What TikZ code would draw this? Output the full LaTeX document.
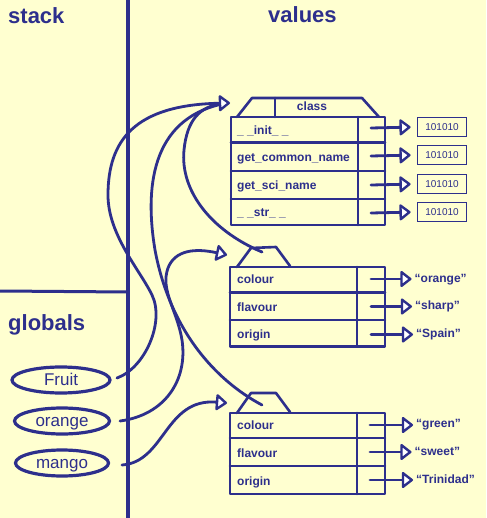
\documentclass[tikz,border=0pt]{standalone}
\usepackage{fontspec}
\setmainfont{Liberation Sans}
\usetikzlibrary{arrows.meta,shapes.geometric}
\definecolor{ink}{RGB}{45,47,140}
\definecolor{paper}{RGB}{255,255,208}

\begin{document}
\begin{tikzpicture}[x=1pt,y=-1pt,
  every node/.style={text=ink, inner sep=0pt},
  heading/.style={font=\fontsize{22}{22}\selectfont\bfseries, anchor=base west},
  field/.style={font=\fontsize{12}{12}\selectfont\bfseries, anchor=base west},
  valtext/.style={font=\fontsize{12}{12}\selectfont\bfseries, anchor=base west},
  codebox/.style={draw=ink, line width=1.8pt, minimum width=49pt, minimum height=19pt,
                  font=\fontsize{10}{10}\selectfont},
  var/.style={draw=ink, ellipse, line width=3.2pt, minimum height=26pt,
              text height=13pt, text depth=3pt, font=\fontsize{17}{17}\selectfont},
  frame/.style={draw=ink, line width=2.6pt, line join=round, line cap=round},
  link/.style={draw=ink, line width=2.8pt, line cap=round},
  tip/.style={-{Triangle[length=12pt,width=18pt,fill=white,line width=2.4pt,line join=round]}},
  ref/.style={link, shorten >=3pt, tip},
]
\fill[paper] (0,0) rectangle (486,518);
\useasboundingbox (0,0) rectangle (486,518);

% stack / heap separation
\draw[ink, line width=3.8pt, line cap=round] (128,0) -- (128,518);
\draw[ink, line width=3pt, line cap=round] (0,291) -- (128,292);

% headings
\node[heading] (stacklbl) at (8,24) {stack};
\node[heading] (valueslbl) at (268,23) {values};
\node[heading] (globalslbl) at (8,330) {globals};

% global variables
\node[var, minimum width=98pt] (fruit) at (61,380) {Fruit};
\node[var, minimum width=95pt] (orange) at (62,421) {orange};
\node[var, minimum width=93pt] (mango) at (62,463) {mango};

% ---------- class object ----------
\draw[frame] (237,117) -- (252,98) -- (362,98) -- (379,117);
\draw[frame] (275,98) -- (275,117);
\node[font=\fontsize{12}{12}\selectfont\bfseries, anchor=base] (clsname) at (312,111) {class};
\draw[frame] (231,117) rectangle (385,225);
\draw[frame] (231,142.5) -- (385,142.5);
\draw[frame] (231,171) -- (385,171);
\draw[frame] (231,199) -- (385,199);
\draw[frame] (358,117) -- (358,225);

\node[field] (finit) at (237,134.5) {\_ \_init\_ \_};
\node[field] (fcommon) at (237,161.5) {get\_common\_name};
\node[field] (fsci) at (237,189.5) {get\_sci\_name};
\node[field] (fstr) at (237,216.5) {\_ \_str\_ \_};

\node[codebox] (m1) at (442,127) {101010};
\node[codebox] (m2) at (442,155) {101010};
\node[codebox] (m3) at (442,184) {101010};
\node[codebox] (m4) at (442,212) {101010};

\coordinate (c1) at (371,128);
\coordinate (c2) at (371,156);
\coordinate (c3) at (371,185);
\coordinate (c4) at (371,213);
\draw[link, tip, shorten >=6pt] (c1) -- (m1.west);
\draw[link, tip, shorten >=6pt] (c2) -- (m2.west);
\draw[link, tip, shorten >=6pt] (c3) -- (m3.west);
\draw[link, tip, shorten >=6pt] (c4) -- (m4.west);

% ---------- orange instance ----------
\draw[frame] (237,267) -- (251,248) -- (276,247) -- (290,266);
\draw[frame] (230,267) rectangle (385,346.5);
\draw[frame] (230,292.5) -- (385,292.5);
\draw[frame] (230,320) -- (385,320);
\draw[frame] (357,267) -- (357,346.5);

\node[field] (ocol) at (237,283.5) {colour};
\node[field] (oflav) at (237,311) {flavour};
\node[field] (oorig) at (237,338.5) {origin};

\node[valtext] (vo1) at (414.5,282.5) {“orange”};
\node[valtext] (vo2) at (415,309.5) {“sharp”};
\node[valtext] (vo3) at (416,337) {“Spain”};

\coordinate (o1) at (371,279);
\coordinate (o2) at (371,306.5);
\coordinate (o3) at (371,334.5);
\draw[ref] (o1) -- (o1 -| vo1.west);
\draw[ref] (o2) -- (o2 -| vo2.west);
\draw[ref] (o3) -- (o3 -| vo3.west);

% ---------- mango instance ----------
\draw[frame] (237,413) -- (251,393) -- (276,393) -- (290,412);
\draw[frame] (230,413) rectangle (385,494);
\draw[frame] (230,438) -- (385,438);
\draw[frame] (230,466) -- (385,466);
\draw[frame] (357,413) -- (357,494);

\node[field] (mcol) at (237,429) {colour};
\node[field] (mflav) at (237,457) {flavour};
\node[field] (morig) at (237,485) {origin};

\node[valtext] (vm1) at (416,427.5) {“green”};
\node[valtext] (vm2) at (414.5,455) {“sweet”};
\node[valtext] (vm3) at (416,483) {“Trinidad”};

\coordinate (g1) at (370,425);
\coordinate (g2) at (370,452);
\coordinate (g3) at (370,480);
\draw[ref] (g1) -- (g1 -| vm1.west);
\draw[ref] (g2) -- (g2 -| vm2.west);
\draw[ref] (g3) -- (g3 -| vm3.west);

% ---------- references ----------
\coordinate (clsin) at (230,103);
\coordinate (clsjoin) at (222,104);
\coordinate (otab) at (262,252);
\coordinate (mtab) at (262,405);
\coordinate (fruitout) at (117,378);
\coordinate (orangeout) at (120,421);
\coordinate (mangoout) at (122,465);
\coordinate (orangein) at (227,255);
\coordinate (mangoin) at (227,403);

% instances point back to their class
\draw[link] (otab) .. controls (210,230) and (180,190) .. (184,150)
                   .. controls (187,120) and (200,106) .. (clsjoin);
\draw[link] (mtab) .. controls (215,380) and (170,330) .. (155,250)
                   .. controls (145,190) and (150,120) .. (clsjoin);
% variables point to their values
\draw[link, tip] (fruitout) .. controls (145,368) and (165,322) .. (152,295)
                   .. controls (140,270) and (108,235) .. (108,195)
                   .. controls (108,140) and (135,105) .. (clsin);
\draw[link, tip] (orangeout) .. controls (165,415) and (188,380) .. (182,340)
                   .. controls (177,310) and (160,290) .. (168,268)
                   .. controls (175,250) and (195,248) .. (orangein);
\draw[link, tip] (mangoout) .. controls (165,462) and (165,398) .. (mangoin);

\end{tikzpicture}
\end{document}
